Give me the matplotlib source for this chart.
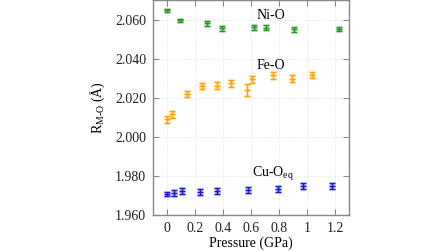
# plot.py
# M-O bond lengths against pressure

import numpy as np
import matplotlib
matplotlib.use("Agg")
import matplotlib.pyplot as plt
from matplotlib import ticker

# Ni-O
ni_p = [0.0, 0.091, 0.289, 0.391, 0.618, 0.706, 0.907, 1.228]
ni_r = [2.0651, 2.0600, 2.0583, 2.0557, 2.0563, 2.0561, 2.0552, 2.0552]
ni_err = [0.0008, 0.0008, 0.0014, 0.0015, 0.0014, 0.0012, 0.0012, 0.0010]

# Fe-O
fe_p = [0.0, 0.039, 0.141, 0.253, 0.356, 0.458, 0.568, 0.604, 0.754, 0.894, 1.035]
fe_r = [2.0091, 2.0116, 2.0221, 2.0263, 2.0262, 2.0275, 2.0241, 2.0297, 2.0316, 2.0299, 2.0319]
fe_err = [0.0018, 0.0018, 0.0016, 0.0016, 0.0018, 0.0018, 0.0030, 0.0018, 0.0017, 0.0017, 0.0017]

# Cu-O equatorial
cu_p = [0.0, 0.048, 0.110, 0.239, 0.356, 0.582, 0.794, 0.973, 1.176]
cu_r = [1.9706, 1.9711, 1.9725, 1.9719, 1.9725, 1.9727, 1.9733, 1.9750, 1.9750]
cu_err = [0.0010, 0.0015, 0.0015, 0.0016, 0.0015, 0.0015, 0.0016, 0.0015, 0.0015]

x_ticks = [0, 0.2, 0.4, 0.6, 0.8, 1.0, 1.2]
y_ticks = [1.96, 1.98, 2.00, 2.02, 2.04, 2.06]


def main():
    plt.rcParams["font.family"] = ["Liberation Serif", "DejaVu Serif"]
    plt.rcParams["mathtext.fontset"] = "custom"
    plt.rcParams["mathtext.rm"] = "Liberation Serif"
    plt.rcParams["mathtext.it"] = "Liberation Serif:italic"
    plt.rcParams["font.size"] = 10

    fig = plt.figure(figsize=(4.48, 2.52), dpi=100)
    ax = fig.add_axes([0.3415, 0.147, 0.4375, 0.853])

    series = [
        (ni_p, ni_r, ni_err, "#2b962b"),
        (fe_p, fe_r, fe_err, "#ffa40a"),
        (cu_p, cu_r, cu_err, "#1a1ad6"),
    ]
    for p, r, err, color in series:
        # soft halo under each bar, like the original
        ax.errorbar(p, r, yerr=err, fmt="_", color=color, alpha=0.18,
                    elinewidth=2.4, capsize=2.5, capthick=2.4, markersize=5,
                    markeredgewidth=2.4)
        ax.errorbar(p, r, yerr=err, fmt="_", color=color,
                    elinewidth=1.0, capsize=2.2, capthick=1.0, markersize=4,
                    markeredgewidth=1.0)

    ax.set_xlim(-0.1, 1.3)
    ax.set_ylim(1.96, 2.0703)
    ax.set_xticks(x_ticks)
    ax.set_yticks(y_ticks)
    ax.xaxis.set_major_formatter(ticker.FuncFormatter(lambda v, _: f"{v:g}"))
    ax.yaxis.set_major_formatter(ticker.FormatStrFormatter("%.3f"))

    ax.grid(color="#dddddd", linestyle=":", linewidth=0.6)
    ax.set_axisbelow(True)
    for spine in ax.spines.values():
        spine.set_color("#888888")
        spine.set_linewidth(1.0)
    ax.tick_params(direction="in", top=True, right=True, length=4,
                   color="#888888", labelcolor="#222222", labelsize=10, pad=5)

    ax.set_xlabel("Pressure (GPa)", fontsize=10, labelpad=1)
    ax.set_ylabel(r"R$_{\mathrm{M\text{-}O}}$ (Å)", fontsize=10, labelpad=6)

    ax.text(0.745, 2.0626, "Ni-O", fontsize=10, ha="center", va="center")
    ax.text(0.745, 2.0365, "Fe-O", fontsize=10, ha="center", va="center")
    ax.text(0.76, 1.9808, r"Cu-O$_{\mathrm{eq}}$", fontsize=10, ha="center",
            va="center")

    fig.savefig("out.png", dpi=100)


if __name__ == "__main__":
    main()
